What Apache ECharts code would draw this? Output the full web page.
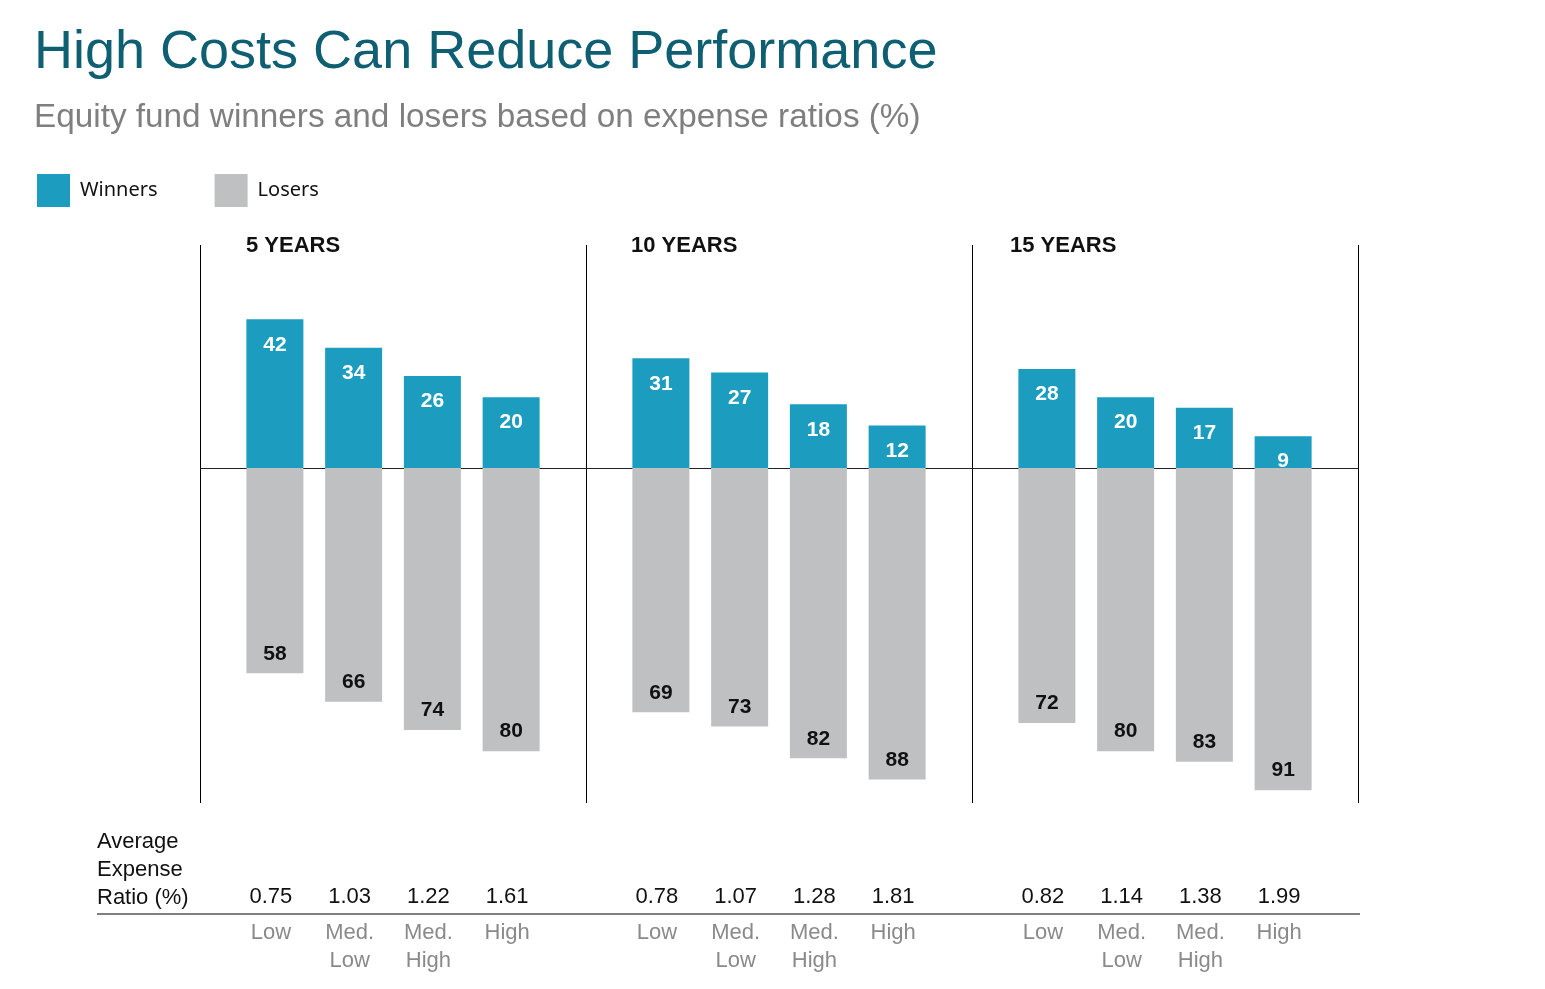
<!DOCTYPE html>
<html>
<head>
    <meta charset="utf-8">
    <title>High Costs Can Reduce Performance</title>
    <style>
        html,body{ margin:0; padding:0; background:#fff; }
    </style>
</head>
<body>
<script src="https://cdn.jsdelivr.net/npm/echarts@6/dist/echarts.min.js"></script>
<div id="main" style="width:1545px;height:989px;"></div>
<script type="text/javascript">
    // data
    var panels = ['5 YEARS', '10 YEARS', '15 YEARS'];
    var tiers = ['Low', 'Med.\nLow', 'Med.\nHigh', 'High'];
    var winners5 = [42, 34, 26, 20];
    var losers5 = [58, 66, 74, 80];
    var winners10 = [31, 27, 18, 12];
    var losers10 = [69, 73, 82, 88];
    var winners15 = [28, 20, 17, 9];
    var losers15 = [72, 80, 83, 91];
    var ratios5 = ['0.75', '1.03', '1.22', '1.61'];
    var ratios10 = ['0.78', '1.07', '1.28', '1.81'];
    var ratios15 = ['0.82', '1.14', '1.38', '1.99'];

    var winners = [winners5, winners10, winners15];
    var losers = [losers5, losers10, losers15];
    var ratios = [ratios5, ratios10, ratios15];

    // layout
    var panelLeft = 200, panelWidth = 386, inset = 35.5;
    var gridTop = 291, gridHeight = 531;
    var font = 'Liberation Sans, Arial, sans-serif';
    var headerLeft = [241, 626, 1005];

    var myChart = echarts.init(document.getElementById('main'));

    var grids = [], xAxes = [], yAxes = [], series = [], titles = [];

    titles.push({
        text: 'High Costs Can Reduce Performance',
        left: 29, top: 21,
        textStyle: { color: '#0f5f73', fontSize: 54, fontWeight: 'normal', fontFamily: font }
    });
    titles.push({
        text: 'Equity fund winners and losers based on expense ratios (%)',
        left: 29, top: 96,
        textStyle: { color: '#7f7f7f', fontSize: 33.3, fontWeight: 'normal', fontFamily: font }
    });

    panels.forEach(function (name, i) {
        var left = panelLeft + panelWidth * i;
        grids.push({ left: left + inset, width: panelWidth - 2 * inset, top: gridTop, height: gridHeight });
        titles.push({
            text: name,
            left: headerLeft[i], top: 230,
            textStyle: { color: '#111', fontSize: 22, fontWeight: 'bold', fontFamily: font }
        });
        xAxes.push({
            type: 'category', gridIndex: i, data: tiers,
            axisLine: { show: false, onZero: false },
            axisTick: { show: false },
            axisLabel: {
                margin: 53,
                interval: 0,
                padding: [0, 8, 0, 0],
                formatter: function (value, idx) {
                    return '{r|' + ratios[i][idx] + '}\n' + value.split('\n').map(function (s) {
                        return '{t|' + s + '}';
                    }).join('\n');
                },
                rich: {
                    r: { fontSize: 22, color: '#111', lineHeight: 44, fontFamily: font },
                    t: { fontSize: 22, color: '#8a8a8a', lineHeight: 28, fontFamily: font }
                }
            }
        });
        yAxes.push({ type: 'value', gridIndex: i, min: -100, max: 50, show: false, splitLine: { show: false } });
        series.push({
            name: 'Winners', type: 'bar', xAxisIndex: i, yAxisIndex: i,
            data: winners[i], barWidth: 57, barGap: '-100%',
            itemStyle: { color: '#1c9dc0' },
            label: {
                show: true, position: 'insideTop', distance: 15,
                color: '#fff', fontSize: 21, fontWeight: 'bold', fontFamily: font
            }
        });
        series.push({
            name: 'Losers', type: 'bar', xAxisIndex: i, yAxisIndex: i,
            data: losers[i].map(function (v) { return -v; }), barWidth: 57, barGap: '-100%',
            itemStyle: { color: '#bfc0c2' },
            label: {
                show: true, position: 'insideBottom', distance: 9,
                color: '#111', fontSize: 21, fontWeight: 'bold', fontFamily: font,
                formatter: function (p) { return Math.abs(p.value); }
            }
        });
    });

    myChart.setOption({
        backgroundColor: '#fff',
        animation: false,
        title: titles,
        legend: {
            data: ['Winners', 'Losers'],
            left: 32, top: 169,
            itemWidth: 33, itemHeight: 33, itemGap: 57,
            icon: 'rect',
            textStyle: { fontSize: 20, color: '#111', fontFamily: 'Noto Sans, Open Sans, sans-serif', padding: [3, 0, 0, 5] }
        },
        grid: grids,
        xAxis: xAxes,
        yAxis: yAxes,
        series: series
    });

    // separators and zero line, placed from the grid scales
    var zeroY = Math.round(myChart.convertToPixel({ gridIndex: 0 }, [0, 0])[1]) + 0.5;
    var lines = [];
    for (var k = 0; k <= panels.length; k++) {
        var x = panelLeft + panelWidth * k + 0.5;
        lines.push({ type: 'line', shape: { x1: x, y1: 245, x2: x, y2: 803 }, style: { stroke: '#000', lineWidth: 1 } });
    }
    lines.push({ type: 'line', shape: { x1: panelLeft, y1: zeroY, x2: panelLeft + panelWidth * panels.length, y2: zeroY }, style: { stroke: '#222', lineWidth: 1 } });
    lines.push({ type: 'line', shape: { x1: 97, y1: 914, x2: 1360, y2: 914 }, style: { stroke: '#7f7f7f', lineWidth: 2 } });
    lines.push({
        type: 'text', left: 97, top: 828,
        style: { text: 'Average\nExpense\nRatio (%)', fontSize: 22, lineHeight: 28, fill: '#111', fontFamily: font }
    });
    myChart.setOption({ graphic: lines });
</script>
</body>
</html>
